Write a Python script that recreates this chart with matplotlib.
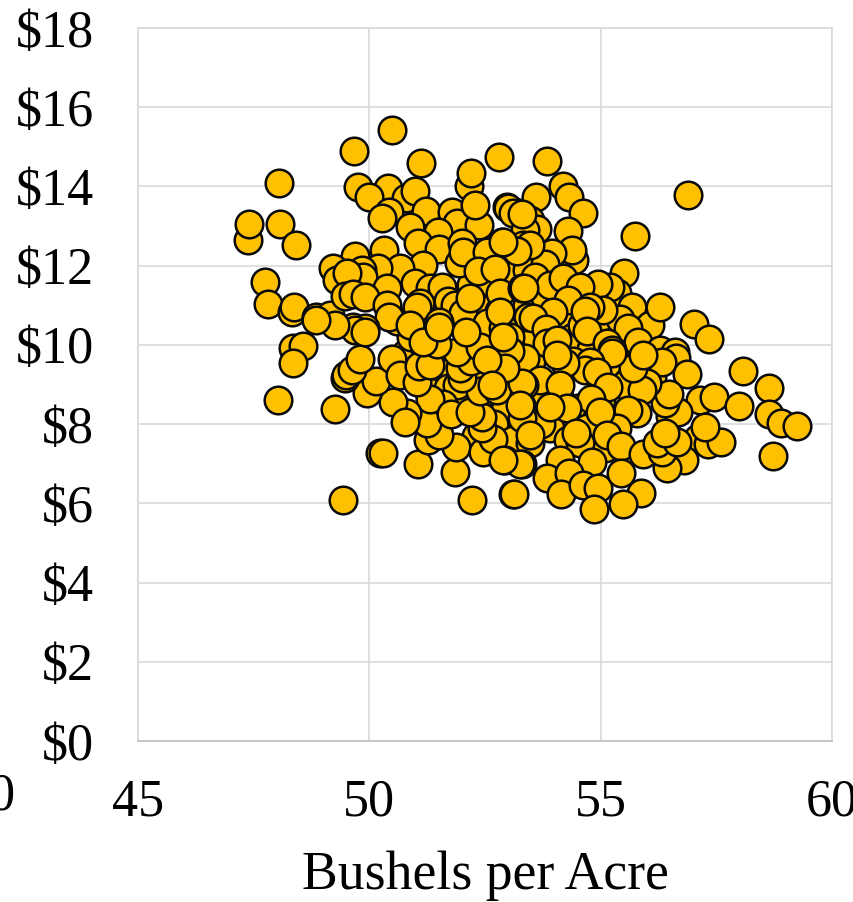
import matplotlib
matplotlib.use("Agg")
import matplotlib.pyplot as plt

bushels_back = [51.0,51.4,51.8,52.2,52.6,53.0,53.4,53.8,54.2,54.6,55.0,55.4,55.8,50.8,51.2,51.6,52.0,52.4,52.8,53.2,53.6,54.0,54.4,54.8,55.2,55.6,
                51.3,51.7,52.1,52.5,52.9,53.3,53.7,54.1,54.5,54.9,55.3,52.3,52.7,53.1,53.5,53.9,54.3,54.7,55.1,52.2,52.6,53.0,53.4,53.8,54.2,54.6,
                56.1,55.7,56.5,50.9,51.9,52.5,53.5,54.4,55.0,55.5,53.7,52.9,51.6,50.6]
price_back = [10.7,10.2,10.6,10.4,10.9,10.6,11.0,11.2,10.8,11.0,10.5,10.2,9.6,9.8,9.9,9.3,9.7,9.4,9.5,9.2,10.2,9.9,10.2,9.9,9.4,9.1,
              8.8,8.9,8.6,8.8,8.3,8.7,8.5,8.7,8.4,8.1,8.2,7.7,8.0,7.6,8.2,7.9,7.6,7.9,7.4,11.5,11.6,11.8,11.9,11.7,11.4,10.5,
              9.2,8.5,8.2,10.2,9.0,10.1,9.6,9.6,8.6,9.0,8.0,9.1,8.5,10.6]

bushels_a = [50.49,49.67,51.12,52.8,52.15,52.2,48.05,47.38,47.4,48.07,48.41,49.75,50.4,49.99,50.8,50.99,51.22,50.43,50.27,51.79,
             51.9,52.37,52.28,50.88,52.97,53.1,53.25,53.3,51.48,51.05,51.5,52.0,50.32,49.69,51.16,51.94,52.02,52.87,52.54,53.21,
             52.35,52.72,49.21,50.66,50.19,47.74,47.81,48.33,48.37,48.85,49.15,49.3,49.84,49.86,49.52,50.38,49.47,49.65,49.9,50.38,
             50.43,50.99,51.31,51.57,51.1,51.03,51.7,51.85,52.02,52.18,51.5,52.8,52.82,53.3,53.43,49.65,49.9,50.88,52.54,52.89]
price_a = [15.43,14.9,14.6,14.75,14.0,14.34,14.09,12.65,13.05,13.05,12.52,13.98,13.96,13.74,13.7,13.88,13.38,13.36,13.2,13.35,
           13.08,13.03,13.53,12.98,13.49,13.36,13.33,13.31,12.85,12.58,12.42,12.58,12.4,12.25,12.02,12.07,12.35,12.6,12.35,12.4,
           11.87,11.92,11.94,11.94,11.94,11.59,11.04,10.83,10.96,10.71,10.76,11.64,11.89,11.72,11.82,11.44,11.24,11.29,11.21,11.01,
           10.71,11.57,11.44,11.46,11.06,10.96,11.11,11.01,10.81,11.19,10.58,10.86,11.31,11.44,10.71,10.45,10.43,10.5,10.56,10.43]

bushels_b = [53.84,54.19,54.31,54.62,53.6,53.0,53.1,53.47,53.62,53.36,53.3,54.29,54.42,54.38,53.95,53.8,53.32,53.47,53.2,52.89,
             53.58,53.9,54.19,53.34,56.89,55.74,55.5,55.35,55.2,54.94,54.55,54.29,55.67,56.07,56.28,57.02,57.34,55.42,55.59,55.05,
             54.77,54.66,53.97,53.54,54.7,53.82,53.84,54.06,55.81,53.04,52.82,55.14,55.24,56.28,56.61]
price_b = [14.65,14.0,13.74,13.33,13.74,13.46,13.33,13.16,12.93,12.9,13.31,12.88,12.15,12.4,12.32,12.05,12.52,12.52,12.37,12.6,
           11.72,11.5,11.69,11.44,13.79,12.75,11.82,11.31,11.46,11.54,11.46,11.14,10.96,10.5,10.96,10.53,10.15,10.66,10.43,10.88,
           10.96,10.86,10.83,10.68,10.35,10.4,10.05,10.13,10.08,10.2,10.83,10.05,9.87,9.87,9.82]

bushels_c = [56.63,56.87,56.32,58.08,58.64,57.15,57.45,57.99,58.64,58.9,59.24,58.72,57.1,57.32,57.6,57.25,56.67,56.39,56.48,56.0,
             55.89,55.78,55.7,55.91,55.24,54.77,54.66,54.92,54.23,54.06,53.36,53.04,53.69,53.34,54.12,55.16,54.79,55.59,55.35,54.98,
             54.27,53.9,53.28,53.3,53.47,53.47,54.55,54.47,55.14,55.44,54.12,54.81,53.3,52.93,53.84,54.31,54.14,53.1,54.62,54.94,
             55.44,55.87,54.86,55.48,55.91,56.8,56.43,56.32,56.22,56.65,56.39]
price_c = [9.67,9.27,9.57,9.34,8.91,8.61,8.69,8.46,8.26,8.03,7.95,7.2,7.65,7.5,7.55,7.93,8.31,8.54,8.76,9.04,
           8.86,8.28,9.42,9.75,9.8,9.57,9.37,9.32,9.55,9.75,9.67,9.85,9.12,8.99,8.99,8.94,8.64,8.36,7.9,8.31,
           8.41,8.43,8.48,8.16,7.53,7.73,7.53,7.78,7.73,7.45,7.1,7.05,7.0,7.1,6.64,6.77,6.24,6.24,6.46,6.39,
           6.77,6.26,5.86,5.98,7.25,7.1,6.89,7.3,7.53,7.55,7.78]

bushels_d = [48.35,48.57,48.35,48.03,49.26,49.43,50.23,50.3,52.22,53.13,51.05,51.85,51.87,51.27,51.5,51.25,52.46,52.67,52.43,52.43,
             53.25,52.89,51.31,50.81,50.51,50.77,51.76,52.18,52.39,52.76,53.3,53.25,49.95,50.15,49.47,49.5,49.63,49.8,50.49,50.66,
             51.03,51.07,51.31,52.0,51.96,52.2,52.93,51.89,52.39,51.46,51.16,49.69,49.9,49.26,48.85,51.5,52.09,52.89,52.54,52.65]
price_d = [9.92,9.97,9.55,8.61,8.38,6.09,7.27,7.27,6.09,6.24,7.0,6.79,7.42,7.6,7.73,8.03,7.3,7.63,7.9,8.18,
           7.0,7.1,8.64,8.29,8.56,8.06,8.26,8.31,8.84,8.86,9.04,8.48,8.79,9.09,9.17,9.24,9.37,9.65,9.65,9.24,
           9.07,9.47,9.5,9.17,9.42,9.6,9.42,9.82,9.95,10.03,10.08,10.38,10.33,10.5,10.63,10.45,10.33,10.2,9.62,8.99]

x_ticks = [45, 50, 55, 60]
y_ticks = [0, 2, 4, 6, 8, 10, 12, 14, 16, 18]
x_title = "Bushels per Acre"

W, H = 854, 902
plt.rcParams["font.family"] = ["Liberation Serif"]
fig = plt.figure(figsize=(W / 100, H / 100), dpi=100)
ax = fig.add_axes([138 / W, 1 - 741 / H, (832 - 138) / W, (741 - 28) / H])
ax.set_xlim(45, 60)
ax.set_ylim(0, 18)
ax.set_xticks(x_ticks)
ax.set_yticks(y_ticks)
ax.set_yticklabels([f"${v}" for v in y_ticks])
ax.grid(True, color="#D9D9D9", linewidth=1.2)
ax.set_axisbelow(True)
for s in ax.spines.values():
    s.set_color("#D9D9D9")
    s.set_linewidth(1.2)
ax.spines["bottom"].set_color("#BFBFBF")
ax.tick_params(length=0, labelsize=37.5, colors="black")
ax.tick_params(axis="y", pad=31.5)
ax.tick_params(axis="x", pad=27)
for bx, py in [(bushels_back, price_back), (bushels_a, price_a), (bushels_b, price_b), (bushels_c, price_c), (bushels_d, price_d)]:
    ax.scatter(bx, py, s=395, facecolor="#FFC000", edgecolor="#0A0A0A", linewidth=1.8, zorder=3, clip_on=False)
ax.set_xlabel(x_title, fontsize=38.6, color="black", x=(485 - 138) / (832 - 138), labelpad=17)
fig.text(15 / W, 1 - 797 / H, "0", fontsize=37.5, ha="right", va="center", color="black")
fig.savefig("out.png", dpi=100)
